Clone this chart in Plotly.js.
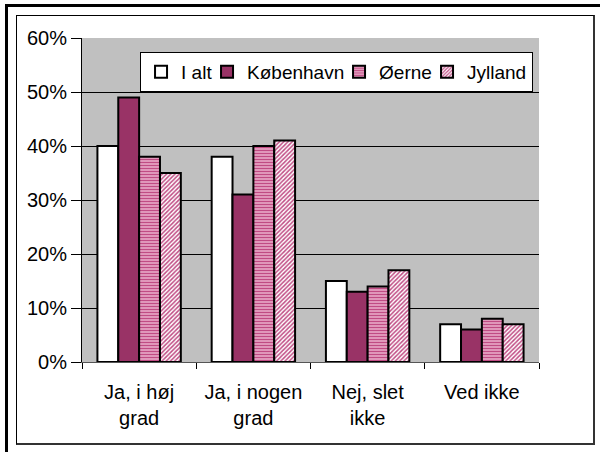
<!DOCTYPE html>
<html>
<head>
<meta charset="utf-8">
<script src="https://cdn.plot.ly/plotly-3.0.1.min.js"></script>
<style>
  html, body { margin: 0; padding: 0; background: #ffffff; }
  #wrap { position: relative; width: 600px; height: 452px; overflow: hidden; }
  #chart { position: absolute; left: 0; top: 0; width: 600px; height: 452px; }
  .ln { position: absolute; pointer-events: none; }
</style>
</head>
<body>
<div id="wrap">
  <div id="chart"></div>
  <div class="ln" style="left:5px; top:4px; width:595px; height:3px; background:#000;"></div>
  <div class="ln" style="left:5px; top:4px; width:3px; height:448px; background:#000;"></div>
  <div class="ln" style="left:16px; top:15px; width:576px; height:427px; border-left:1px solid #000; border-top:1px solid #000; border-right:2px solid #333; border-bottom:2px solid #333;"></div>
</div>
<script>
const categories = ["Ja, i høj<br>grad", "Ja, i nogen<br>grad", "Nej, slet<br>ikke", "Ved ikke"];
const seriesNames = ["I alt", "København", "Øerne", "Jylland"];
const iAlt = [0.40, 0.38, 0.15, 0.07];
const koebenhavn = [0.49, 0.31, 0.13, 0.06];
const oerne = [0.38, 0.40, 0.14, 0.08];
const jylland = [0.35, 0.41, 0.17, 0.07];
const yTickVals = [0, 0.1, 0.2, 0.3, 0.4, 0.5, 0.6];
const yTickText = ["0%", "10%", "20%", "30%", "40%", "50%", "60%"];

const font = "Liberation Sans";
const line = {color: "#000", width: 2};

const traces = [
  {type: "bar", name: seriesNames[0], x: categories, y: iAlt, legendwidth: 21,
   marker: {color: "#ffffff", line: line}},
  {type: "bar", name: seriesNames[1], x: categories, y: koebenhavn, legendwidth: 87,
   marker: {color: "#993366", line: line}},
  {type: "bar", name: seriesNames[2], x: categories, y: oerne, legendwidth: 43,
   marker: {color: "#EBB0CC", line: line,
            pattern: {shape: "-", fgcolor: "#C04C84", bgcolor: "#EBB0CC", size: 3, solidity: 0.5, fillmode: "replace"}}},
  {type: "bar", name: seriesNames[3], x: categories, y: jylland, legendwidth: 60,
   marker: {color: "#ffffff", line: line,
            pattern: {shape: "/", fgcolor: "#C04C84", bgcolor: "#ffffff", size: 3, solidity: 0.5, fillmode: "replace"}}}
];

const layout = {
  width: 600, height: 452,
  margin: {l: 82, r: 61, t: 38, b: 90},
  paper_bgcolor: "#ffffff",
  plot_bgcolor: "#C0C0C0",
  barmode: "group",
  bargap: 0.27,
  bargroupgap: 0,
  font: {family: font, size: 20, color: "#000"},
  showlegend: true,
  legend: {
    orientation: "h", x: 0.127, xanchor: "left", y: 0.957, yanchor: "top",
    bgcolor: "#ffffff", bordercolor: "#000", borderwidth: 1,
    font: {family: font, size: 19, color: "#000"},
    itemwidth: 30, traceorder: "normal"
  },
  xaxis: {
    type: "category", tickson: "boundaries", ticks: "outside", ticklen: 6,
    tickcolor: "#000", showline: true, linecolor: "#555", linewidth: 1,
    showgrid: false, tickfont: {family: font, size: 20, color: "#000"},
    ticklabelstandoff: 12,
    fixedrange: true
  },
  yaxis: {
    range: [0, 0.6], tickvals: yTickVals, ticktext: yTickText,
    ticks: "outside", ticklen: 10, tickcolor: "#000",
    showline: true, linecolor: "#000", linewidth: 1,
    showgrid: true, gridcolor: "#000", gridwidth: 1, zeroline: false,
    tickfont: {family: font, size: 20, color: "#000"},
    fixedrange: true
  }
};

Plotly.newPlot("chart", traces, layout, {displayModeBar: false, staticPlot: true});
</script>
</body>
</html>
